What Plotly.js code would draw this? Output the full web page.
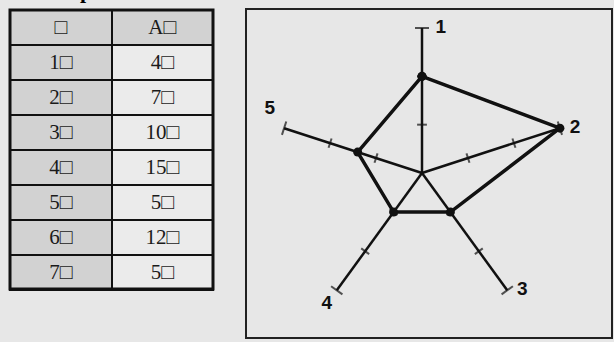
<!DOCTYPE html>
<html>
<head>
<meta charset="utf-8">
<script src="https://cdn.plot.ly/plotly-3.0.1.min.js"></script>
<style>html,body{margin:0;padding:0;background:#e7e7e7;}#chart{width:614px;height:342px;}</style>
</head>
<body>
<div id="chart"></div>
<script>
// ---- table data ----
var tableHeader = ["□", "A□"];
var tableIds = ["1□", "2□", "3□", "4□", "5□", "6□", "7□"];
var tableValues = ["4□", "7□", "10□", "15□", "5□", "12□", "5□"];

// ---- radar data ----
var radarAxes = ["1", "2", "3", "4", "5"];
var radarValues = [2, 3, 1, 1, 1.4];
var radarTicks = [1, 2, 3];
var radarMax = 3;
var labelPositions = ["middle right", "middle right", "middle right", "bottom left", "top left"];
var labelGaps = [20, 14, 14, 6, 13];

var n = radarAxes.length;
var stepDeg = 360 / n;

// tick marks on each spoke
var tickR = [], tickTheta = [], tickAngle = [], tickSize = [];
radarAxes.forEach(function (cat, i) {
  radarTicks.forEach(function (t) {
    tickR.push(t);
    tickTheta.push(cat);
    tickAngle.push(i * stepDeg);
    tickSize.push(t === radarMax ? 10 : 7);
  });
});

var closedTheta = radarAxes.concat([radarAxes[0]]);
var closedR = radarValues.concat([radarValues[0]]);

var traces = [
  {
    type: "table",
    domain: {x: [10 / 614, 213 / 614], y: [0.05, 1 - 10 / 342]},
    columnwidth: [1, 1],
    header: {
      values: tableHeader,
      align: "center",
      height: 35,
      fill: {color: "#d2d2d2"},
      line: {color: "#111", width: 2},
      font: {family: "Liberation Serif", size: 21, color: "#1a1a1a"}
    },
    cells: {
      values: [tableIds, tableValues],
      align: "center",
      height: 35,
      fill: {color: ["#d2d2d2", "#ebebeb"]},
      line: {color: "#111", width: 2},
      font: {family: "Liberation Serif", size: 21, color: "#1a1a1a"}
    }
  },
  {
    type: "scatterpolar",
    r: tickR,
    theta: tickTheta,
    mode: "markers",
    marker: {symbol: "line-ew", size: tickSize, angle: tickAngle, line: {color: "#111", width: 2}},
    hoverinfo: "skip",
    showlegend: false
  },
  {
    type: "scatterpolar",
    r: closedR,
    theta: closedTheta,
    mode: "lines+markers",
    line: {color: "#111", width: 3.5},
    marker: {color: "#111", size: 9},
    showlegend: false
  },
  {
    type: "scatterpolar",
    r: radarAxes.map(function () { return radarMax; }),
    theta: radarAxes,
    mode: "markers+text",
    marker: {size: labelGaps, color: "rgba(0,0,0,0)", line: {width: 0, color: "rgba(0,0,0,0)"}},
    text: radarAxes,
    textposition: labelPositions,
    textfont: {family: "Liberation Sans", size: 19, color: "#111", weight: "bold"},
    hoverinfo: "skip",
    showlegend: false
  }
];

var layout = {
  width: 614,
  height: 342,
  margin: {l: 0, r: 0, t: 0, b: 0},
  paper_bgcolor: "#e7e7e7",
  plot_bgcolor: "#e7e7e7",
  showlegend: false,
  polar: {
    domain: {x: [277 / 614, 567 / 614], y: [24 / 342, 314 / 342]},
    bgcolor: "rgba(0,0,0,0)",
    radialaxis: {range: [0, radarMax], showgrid: false, showline: false, showticklabels: false, ticks: ""},
    angularaxis: {
      type: "category",
      categoryarray: radarAxes,
      rotation: 90,
      direction: "clockwise",
      showgrid: true,
      gridcolor: "#111",
      gridwidth: 2.5,
      showline: false,
      showticklabels: false,
      ticks: ""
    }
  },
  shapes: [
    {type: "rect", xref: "paper", yref: "paper", x0: 246 / 614, x1: 612 / 614, y0: 4 / 342, y1: 333 / 342,
     line: {color: "#222", width: 2}, fillcolor: "rgba(0,0,0,0)"},
    {type: "rect", xref: "paper", yref: "paper", x0: 10 / 614, x1: 213 / 614, y0: 53 / 342, y1: 332 / 342,
     line: {color: "#111", width: 3}, fillcolor: "rgba(0,0,0,0)"}
  ],
  annotations: [
    {text: "p", xref: "paper", yref: "paper", x: 86 / 614, y: 1 + 10 / 342, yanchor: "middle", xanchor: "center",
     showarrow: false, font: {family: "Liberation Serif", size: 22, color: "#000", weight: "bold"}}
  ]
};

Plotly.newPlot("chart", traces, layout, {displayModeBar: false, staticPlot: true});
</script>
</body>
</html>
